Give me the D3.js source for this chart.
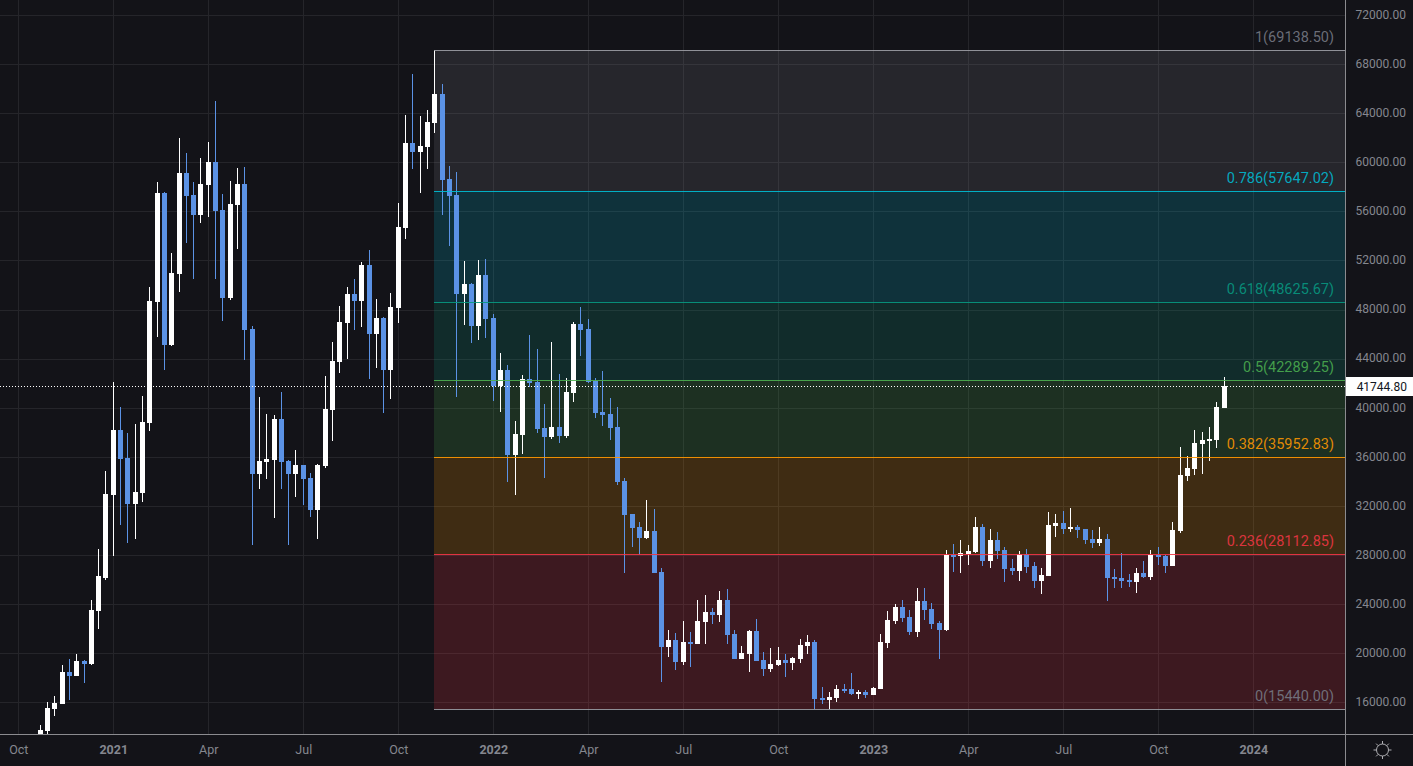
<!DOCTYPE html>
<html>
<head>
<meta charset="utf-8">
<script src="https://cdnjs.cloudflare.com/ajax/libs/d3/7.8.5/d3.min.js"></script>
<style>
	html, body { margin: 0; padding: 0; background: #131318; overflow: hidden; }
	svg { display: block; font-family: Roboto, sans-serif; }
</style>
</head>
<body>
<script>
// weekly candles, left to right
const opens = [13090,13660,15450,15860,18470,18140,19360,19120,23440,26130,32890,38190,35900,32160,33050,38760,48620,57500,45110,50900,59120,57330,55700,58150,60020,56110,48940,56520,58230,46410,34600,35580,35740,39080,35660,34600,35330,34270,31670,35250,39810,43720,46900,49270,48700,51630,46010,47310,43070,48130,54640,61570,60840,61240,63200,65560,58640,57330,49270,50080,46660,50810,47310,41770,43070,36150,37780,42340,42100,38350,37620,38430,37700,41200,46820,46410,42180,39650,39490,38430,34030,31340,30280,29390,29960,26620,20500,21080,19280,20910,20750,22540,23360,23110,24330,21560,19530,19930,21810,19450,18710,19040,19450,19200,19530,20590,20910,16350,16190,16350,17080,17080,16670,16840,16590,17080,20830,22620,23760,22950,21730,24250,23600,22460,21890,28000,27920,28080,28250,30280,27510,29220,28410,26940,26700,28080,27100,25880,26290,30360,30610,30120,30280,30120,29300,28980,29300,26210,26130,25960,25800,26530,26210,28000,27920,27100,29960,34440,35010,37050,37290,37370,39980];
const highs = [14150,16020,16510,19040,19530,19930,19450,24330,28490,34850,42100,40060,37940,38670,40960,49840,58390,57580,52610,61980,60750,58390,60350,61650,64990,57410,58470,59530,59610,46660,40870,39490,39410,41280,35740,36560,35330,34680,35410,42580,45350,48290,49840,50490,51870,52850,48860,47390,49350,56680,63850,67190,63770,64260,69138.5,66380,59700,59210,51950,50160,52040,52120,47640,44460,43480,38920,42670,45930,44780,40300,45350,42750,42420,46980,48210,47230,42420,42990,40790,40060,34270,31340,30690,32480,31750,26940,21890,21650,22620,21730,24330,24740,23680,25070,25230,21890,20590,21890,22790,20100,20420,20500,19930,19690,21160,21480,21080,17250,16840,17410,17490,18380,17000,17000,17250,21560,23440,24010,24330,23520,25310,25310,24090,22620,28410,28900,29220,28820,31100,30530,30120,29880,28650,27680,28330,28490,27430,26940,31500,31340,31580,31830,30450,30120,30040,30280,29710,26860,28160,26450,26940,27510,28410,28650,28000,30690,36800,36070,38190,38020,38430,40470,42500];
const lows = [12520,13090,14880,15860,16190,18140,17570,19040,21970,25960,27920,30450,28980,29300,32320,38100,45770,43070,45030,49430,53420,50490,55050,55540,50490,47070,48780,52930,43890,28820,33380,34190,31010,33380,28820,32730,32080,31100,29300,35090,37290,42830,43970,46330,46580,42340,43240,39570,40710,46900,53750,59450,57500,59450,62380,55700,53180,40870,46740,45270,45520,45680,40550,39650,33950,32890,36230,41690,37940,34270,37450,37130,37530,40470,44210,42010,39160,38510,37370,33700,26530,28650,28000,29300,26530,17650,19690,18630,19040,18880,20750,20750,22380,22540,20750,19530,19530,18470,19360,18140,18470,18960,18060,18630,19200,19930,15440,15860,15440,16020,16760,16590,16270,16350,16590,17080,20420,22380,22540,21480,21320,22700,21970,19530,21810,26620,26530,27180,28160,27100,26940,27680,25800,26370,25880,26530,25310,24820,26290,29470,29710,29880,29390,28900,28570,28730,24250,25310,25310,25390,24900,26130,25960,27180,26530,27100,29790,34030,34520,34600,35660,36720,39980];
const closes = [13740,15530,15940,18470,18140,19360,19120,23520,26290,32970,38190,35820,32160,33130,38840,48700,57500,45110,50980,59120,57250,55700,58230,60020,56030,48940,56600,58230,46330,34600,35660,35820,39080,35580,34600,35330,34190,31670,35330,39900,43810,46980,49270,48700,51630,46010,47310,43070,48210,54720,61570,60840,61330,63280,65560,58560,57250,49270,50080,46660,50810,47230,41770,43070,36150,37860,42340,42010,38270,37620,38430,37700,41280,46820,46330,42100,39570,39410,38350,33950,31260,30200,29390,29960,26530,20500,21080,19280,20910,20750,22620,23360,23110,24330,21480,19530,20020,21810,19360,18710,19120,19450,19200,19610,20670,20910,16270,16190,16430,17080,17000,16670,16840,16590,17170,20910,22700,23760,22870,21730,24250,23520,22380,21890,28000,27920,28160,28330,30280,27510,29220,28330,26860,26700,28080,27020,25880,26370,30450,30610,30120,30280,30040,29220,28980,29300,26130,26050,25880,25800,26530,26210,28000,27840,27100,30040,34520,35090,37130,37370,37450,40060,41744.8];

const priceTicks = [72000,68000,64000,60000,56000,52000,48000,44000,40000,36000,32000,28000,24000,20000,16000];
const timeTickBars = [-3,10,23,36,49,62,75,88,101,114,127,140,153,166];
const timeTickLabels = ['Oct','2021','Apr','Jul','Oct','2022','Apr','Jul','Oct','2023','Apr','Jul','Oct','2024'];
const yearLabels = ['2021','2022','2023','2024'];

const fibRatios = ['1','0.786','0.618','0.5','0.382','0.236','0'];
const fibPrices = [69138.50,57647.02,48625.67,42289.25,35952.83,28112.85,15440.00];
const fibColors = ['#787b86','#00bcd4','#089981','#4caf50','#ff9800','#f23645','#787b86'];
const fibStartBar = 54;
const lastPrice = 41744.80;

const width = 1413, height = 766;
const plotW = 1345, plotH = 734;
const bg = '#131318', gridCol = '#25252a', axisCol = '#8b8b8f', textCol = '#85878f';
const upCol = '#ffffff', downCol = '#5b92e5';

const svg = d3.select('body').append('svg').attr('width', width).attr('height', height);

const x = d3.scaleLinear().domain([0, opens.length - 1]).range([40.2, 1224.05]);
const y = d3.scaleLinear().domain([72000, 16000]).range([15, 702.3]);
const col = (i) => Math.floor(x(i));
const row = (p) => Math.round(y(p));
const bars = d3.range(opens.length);

svg.append('defs').append('clipPath').attr('id', 'plot')
	.append('rect').attr('width', plotW).attr('height', plotH);

svg.append('rect').attr('width', width).attr('height', height).attr('fill', bg);

// grid
svg.append('g').selectAll('rect').data(priceTicks).enter().append('rect')
	.attr('x', 0).attr('width', plotW).attr('y', row).attr('height', 1).attr('fill', gridCol);
svg.append('g').selectAll('rect').data(timeTickBars).enter().append('rect')
	.attr('x', col).attr('width', 1).attr('y', 0).attr('height', plotH).attr('fill', gridCol);

// fib fills sit under the candles
const fibX = col(fibStartBar);
svg.append('g').selectAll('rect').data(fibPrices.slice(0, -1)).enter().append('rect')
	.attr('x', fibX).attr('width', plotW - fibX)
	.attr('y', row)
	.attr('height', (d, i) => row(fibPrices[i + 1]) - row(d))
	.attr('fill', (d, i) => fibColors[i]).attr('fill-opacity', 0.19);

// candles
const candles = svg.append('g').attr('clip-path', 'url(#plot)');
const color = (i) => closes[i] >= opens[i] ? upCol : downCol;
candles.selectAll('rect.wick').data(bars).enter().append('rect')
	.attr('class', 'wick')
	.attr('x', col).attr('width', 1)
	.attr('y', (i) => row(highs[i]))
	.attr('height', (i) => Math.max(1, row(lows[i]) - row(highs[i])))
	.attr('fill', color);
candles.selectAll('rect.body').data(bars).enter().append('rect')
	.attr('class', 'body')
	.attr('x', (i) => col(i) - 2).attr('width', 5)
	.attr('y', (i) => row(Math.max(opens[i], closes[i])))
	.attr('height', (i) => Math.max(2, row(Math.min(opens[i], closes[i])) - row(Math.max(opens[i], closes[i]))))
	.attr('fill', color);

// fib lines and labels
const fib = svg.append('g');
fib.selectAll('rect').data(fibPrices).enter().append('rect')
	.attr('x', fibX).attr('width', plotW - fibX)
	.attr('y', row).attr('height', 1)
	.attr('fill', (d, i) => (i === 0 || i === 6) ? '#9c9da4' : fibColors[i])
	.attr('fill-opacity', 0.9);
fib.selectAll('text').data(fibPrices).enter().append('text')
	.attr('x', 1334).attr('y', (d) => row(d) - 8)
	.attr('text-anchor', 'end').attr('font-size', 14.5)
	.attr('fill', (d, i) => fibColors[i]).attr('fill-opacity', 0.88)
	.text((d, i) => fibRatios[i] + '(' + d.toFixed(2) + ')');

// last price line
svg.append('line')
	.attr('x1', 0).attr('x2', plotW)
	.attr('y1', row(lastPrice) + 0.5).attr('y2', row(lastPrice) + 0.5)
	.attr('stroke', '#fff').attr('stroke-dasharray', '1,2');

// axes
const yAxis = d3.axisRight(y).tickValues(priceTicks).tickSize(0).tickPadding(0)
	.tickFormat((d) => d.toFixed(2));
svg.append('g').attr('transform', 'translate(1355.5,-0.5)').call(yAxis)
	.call((g) => g.select('.domain').remove())
	.call((g) => g.selectAll('text').attr('fill', textCol).attr('font-size', 12).attr('font-family', 'Roboto'));

const xAxis = d3.axisBottom(x).tickValues(timeTickBars).tickSize(0).tickPadding(0)
	.tickFormat((d, i) => timeTickLabels[i]);
svg.append('g').attr('transform', 'translate(0,' + (plotH + 11) + ')').call(xAxis)
	.call((g) => g.select('.domain').remove())
	.call((g) => g.selectAll('text').attr('fill', textCol).attr('font-size', 12.5).attr('font-family', 'Roboto')
		.attr('font-weight', (d, i) => yearLabels.includes(timeTickLabels[i]) ? 700 : 400));

svg.append('rect').attr('x', 0).attr('y', plotH).attr('width', width).attr('height', 1).attr('fill', axisCol);
svg.append('rect').attr('x', plotW).attr('y', 0).attr('width', 1).attr('height', height).attr('fill', axisCol);

// last price tag
svg.append('rect').attr('x', plotW + 1).attr('y', row(lastPrice) - 9)
	.attr('width', width - plotW - 1).attr('height', 19).attr('fill', '#fff');
svg.append('text').attr('x', 1407).attr('y', row(lastPrice) + 4.5)
	.attr('text-anchor', 'end').attr('font-size', 12).attr('fill', '#131722')
	.text(lastPrice.toFixed(2));

// sun icon
const sun = svg.append('g').attr('transform', 'translate(1382.5,750)')
	.attr('stroke', '#b0b0b4').attr('fill', 'none');
sun.append('circle').attr('r', 6);
sun.selectAll('line').data(d3.range(8)).enter().append('line')
	.attr('x1', (d) => 6 * Math.cos(d * Math.PI / 4)).attr('y1', (d) => 6 * Math.sin(d * Math.PI / 4))
	.attr('x2', (d) => 9 * Math.cos(d * Math.PI / 4)).attr('y2', (d) => 9 * Math.sin(d * Math.PI / 4));
</script>
</body>
</html>
